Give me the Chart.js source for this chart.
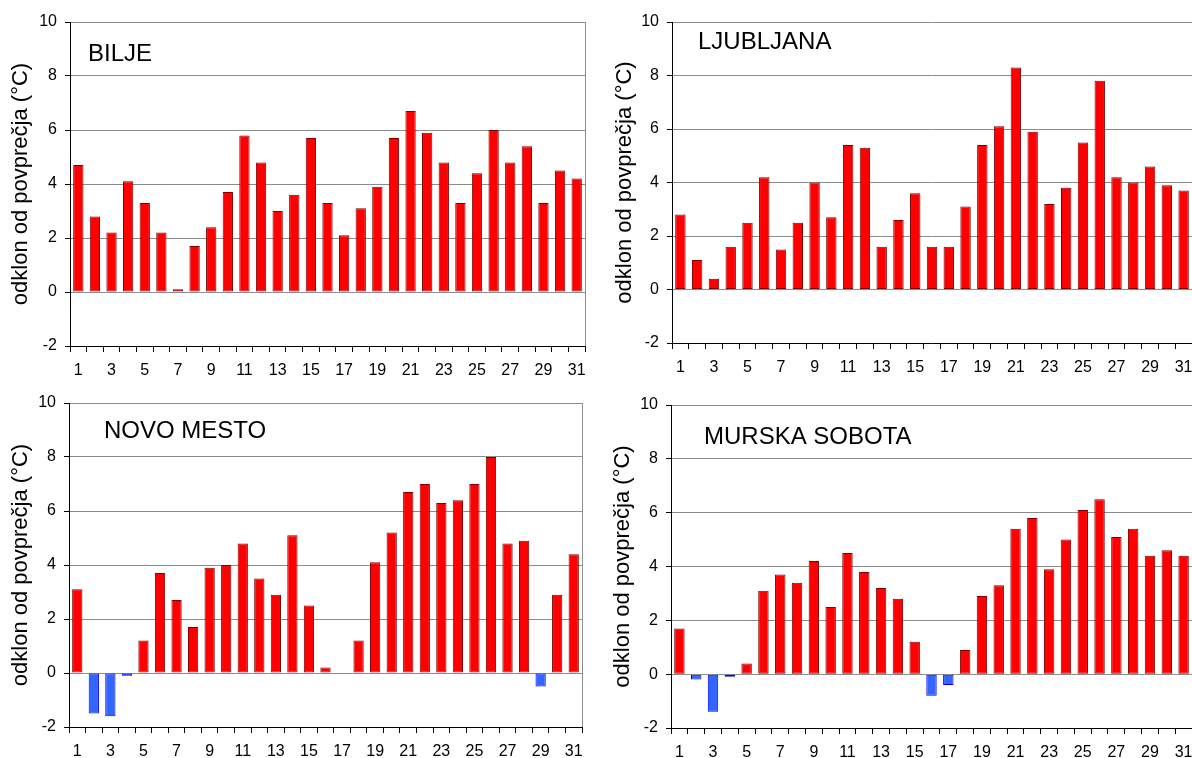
<!DOCTYPE html>
<html>
<head>
<meta charset="utf-8">
<script src="https://cdn.jsdelivr.net/npm/chart.js@4/dist/chart.umd.min.js"></script>
<style>
  html, body { margin: 0; padding: 0; background: #fff; }
  body { width: 1192px; height: 758px; position: relative; overflow: hidden; }
  canvas { position: absolute; }
</style>
</head>
<body>
<canvas id="c-bilje"     width="596" height="380" style="left:0;top:0"></canvas>
<canvas id="c-ljubljana" width="588" height="380" style="left:604px;top:0"></canvas>
<canvas id="c-novomesto" width="596" height="378" style="left:0;top:380px"></canvas>
<canvas id="c-murska"    width="590" height="378" style="left:602px;top:380px"></canvas>

<script>
// ── Data (odklon od povprečja, °C) ────────────────────────────────────────────
const days = [1, 2, 3, 4, 5, 6, 7, 8, 9, 10, 11, 12, 13, 14, 15, 16,
              17, 18, 19, 20, 21, 22, 23, 24, 25, 26, 27, 28, 29, 30, 31];

const bilje = [4.7, 2.8, 2.2, 4.1, 3.3, 2.2, 0.1, 1.7, 2.4, 3.7, 5.8, 4.8, 3.0, 3.6, 5.7, 3.3,
               2.1, 3.1, 3.9, 5.7, 6.7, 5.9, 4.8, 3.3, 4.4, 6.0, 4.8, 5.4, 3.3, 4.5, 4.2];

const ljubljana = [2.8, 1.1, 0.4, 1.6, 2.5, 4.2, 1.5, 2.5, 4.0, 2.7, 5.4, 5.3, 1.6, 2.6, 3.6, 1.6,
                   1.6, 3.1, 5.4, 6.1, 8.3, 5.9, 3.2, 3.8, 5.5, 7.8, 4.2, 4.0, 4.6, 3.9, 3.7];

const novoMesto = [3.1, -1.5, -1.6, -0.1, 1.2, 3.7, 2.7, 1.7, 3.9, 4.0, 4.8, 3.5, 2.9, 5.1, 2.5, 0.2,
                   null, 1.2, 4.1, 5.2, 6.7, 7.0, 6.3, 6.4, 7.0, 8.0, 4.8, 4.9, -0.5, 2.9, 4.4];

const murskaSobota = [1.7, -0.2, -1.4, -0.1, 0.4, 3.1, 3.7, 3.4, 4.2, 2.5, 4.5, 3.8, 3.2, 2.8, 1.2, -0.8,
                      -0.4, 0.9, 2.9, 3.3, 5.4, 5.8, 3.9, 5.0, 6.1, 6.5, 5.1, 5.4, 4.4, 4.6, 4.4];

const yTicks = [-2, 0, 2, 4, 6, 8, 10];
const yTitle = 'odklon od povprečja (°C)';

// ── Styling ───────────────────────────────────────────────────────────────────
const FONT  = '"Liberation Sans", Arial, sans-serif';
const GRID  = '#8c8c8c';
const RED   = '#ff0000', RED_EDGE  = '#800000';
const BLUE  = '#3366ff', BLUE_EDGE = '#0000ff';

// station name inside the plot area
const stationLabel = {
  id: 'stationLabel',
  afterDraw(chart, args, opts) {
    const { ctx, chartArea } = chart;
    ctx.save();
    ctx.font = `24px ${FONT}`;
    ctx.fillStyle = '#000';
    ctx.textBaseline = 'alphabetic';
    ctx.fillText(opts.text, chartArea.left + opts.dx, chartArea.top + opts.dy);
    ctx.restore();
  }
};

function makeChart(id, name, values, box) {
  return new Chart(document.getElementById(id), {
    type: 'bar',
    data: {
      labels: days,
      datasets: [{
        data: values,
        backgroundColor: c => (c.raw < 0 ? BLUE : RED),
        borderColor:     c => (c.raw < 0 ? BLUE_EDGE : RED_EDGE),
        borderWidth: 1,
        borderSkipped: false,
        barPercentage: 0.62,
        categoryPercentage: 1,
      }]
    },
    options: {
      responsive: false,
      animation: false,
      devicePixelRatio: 1,
      layout: { padding: { top: box.top, right: box.right, left: 0, bottom: 0 } },
      plugins: {
        legend:  { display: false },
        tooltip: { enabled: false },
        stationLabel: { text: name, dx: box.dx, dy: box.dy },
      },
      scales: {
        x: {
          offset: true,
          grid: {
            offset: true,
            // only the closing line on the right edge is drawn inside the plot
            color: c => (c.type === 'tick' ? 'rgba(0,0,0,0)' : GRID),
            tickColor: '#000',
            tickLength: 6,
          },
          border: { color: '#000', width: 1 },
          ticks: {
            autoSkip: false,
            maxRotation: 0,
            padding: 9,
            color: '#000',
            font: { family: FONT, size: 16 },
            callback: (v, i) => (i % 2 === 0 ? String(days[i]) : ''),
          },
          afterFit: s => { s.height = box.xh; s.paddingLeft = 0; s.paddingRight = 0; },
        },
        y: {
          min: -2,
          max: 10,
          afterBuildTicks: s => { s.ticks = yTicks.map(v => ({ value: v })); },
          grid:   { color: GRID, tickColor: '#000', tickLength: 5 },
          border: { color: '#000', width: 1 },
          ticks:  { padding: 8, color: '#000', font: { family: FONT, size: 16 } },
          title: {
            display: true,
            text: yTitle,
            color: '#000',
            font: { family: FONT, size: 22 },
            padding: { top: 8, bottom: 0 },
          },
          afterFit: s => { s.width = box.yw; s.paddingTop = 0; s.paddingBottom = 0; },
        }
      }
    },
    plugins: [stationLabel]
  });
}

// ── Panels ────────────────────────────────────────────────────────────────────
makeChart('c-bilje',     'BILJE',         bilje,        { top: 22, right: 11, xh: 34, yw: 70, dx: 18, dy: 39 });
makeChart('c-ljubljana', 'LJUBLJANA',     ljubljana,    { top: 22, right: 0,  xh: 37, yw: 68, dx: 26, dy: 27 });
makeChart('c-novomesto', 'NOVO MESTO',    novoMesto,    { top: 23, right: 14, xh: 31, yw: 69, dx: 35, dy: 35 });
makeChart('c-murska',    'MURSKA SOBOTA', murskaSobota, { top: 25, right: 0,  xh: 30, yw: 69, dx: 33, dy: 39 });
</script>
</body>
</html>
